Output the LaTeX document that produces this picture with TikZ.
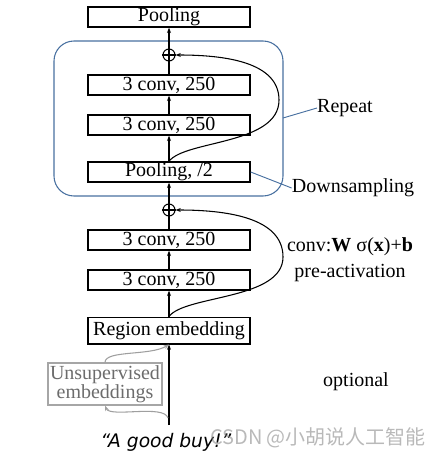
\documentclass[tikz,border=0pt]{standalone}
\usepackage{fontspec}
\setmainfont{Liberation Serif}
\newfontfamily\qfont{DejaVu Sans}
\newfontfamily\cjkfont{Noto Sans CJK SC}
\usetikzlibrary{arrows.meta}
\definecolor{rptblue}{RGB}{72,112,160}
\begin{document}
\begin{tikzpicture}[x=0.75pt,y=-0.75pt,
  blk/.style={draw, line width=1pt, minimum width=121.5pt, minimum height=15pt, inner sep=0pt, font=\fontsize{15}{15}\selectfont},
  plusc/.style={draw, circle, line width=0.8pt, minimum size=9pt, inner sep=0pt},
  arr/.style={-{Stealth[length=4pt,width=3pt]}, line width=0.8pt},
  ln/.style={line width=0.8pt},
  garr/.style={-{Stealth[length=4pt,width=3pt]}, line width=0.8pt, draw=gray!75},
  lbl/.style={font=\fontsize{15}{17}\selectfont, inner sep=0pt, align=center}]
\useasboundingbox (0,0) rectangle (435,459);
% blue repeat box
\draw[rptblue, line width=0.8pt, rounded corners=15pt] (54,41) rectangle (283,196);
% blocks
\node[blk] (pool1) at (169,17) {Pooling};
\node[plusc] (plusA) at (169,55) {};
\node[blk] (convA1) at (169,85) {3 conv, 250};
\node[blk] (convA2) at (169,125) {3 conv, 250};
\node[blk] (poolA) at (169,172) {Pooling, /2};
\node[plusc] (plusB) at (169,210) {};
\node[blk] (convB1) at (169,240) {3 conv, 250};
\node[blk] (convB2) at (169,280) {3 conv, 250};
\node[blk, minimum height=20pt] (region) at (169,330.5) {Region embedding};
\node[draw=gray!70, line width=0.9pt, text=gray!85!black, minimum width=85.5pt, minimum height=31.5pt, inner sep=0pt, align=center, font=\fontsize{15}{13.5}\selectfont] (unsup) at (105,384) {Unsupervised\\embeddings};
\node[font=\qfont\itshape\fontsize{14}{14}\selectfont, inner sep=0pt] (quote) at (166,442) {“A good buy!”};
\coordinate (src) at (169,425);
% plus signs
\foreach \p in {plusA,plusB}{
  \draw[ln] (\p.north) -- (\p.south);
  \draw[ln] (\p.west) -- (\p.east);
}
% main flow
\draw[arr] (src) -- (region.south);
\draw[arr] (region.north) -- (convB2.south);
\draw[arr] (convB2.north) -- (convB1.south);
\draw[ln] (convB1.north) -- (plusB.south);
\draw[arr] (plusB.north) -- (poolA.south);
\draw[arr] (poolA.north) -- (convA2.south);
\draw[arr] (convA2.north) -- (convA1.south);
\draw[ln] (convA1.north) -- (plusA.south);
\draw[arr] (plusA.north) -- (pool1.south);
% skip connections
\draw[arr] (poolA.north) .. controls (185,140) and (279,145) .. (279,100) .. controls (279,62) and (225,55) .. (plusA.east);
\draw[arr] (region.north) .. controls (185,295) and (283,300) .. (283,257) .. controls (283,217) and (225,210) .. (plusB.east);
% unsupervised embeddings
\coordinate (gs) at (168,418);
\draw[garr] (gs) .. controls (164,404) and (110,418) .. (unsup.south);
\draw[garr] (unsup.north) .. controls (105,350) and (150,356) .. (region.south);
% labels
\node[lbl] (rep) at (345,108) {Repeat};
\node[lbl] (down) at (353,188) {Downsampling};
\node[lbl] (convlbl) at (350,247) {conv:\textbf{W} σ(\textbf{x})+\textbf{b}};
\node[lbl] (preact) at (350,273) {pre-activation};
\node[lbl] (opt) at (356,382) {optional};
\draw[rptblue, line width=0.7pt] (283,118) -- (rep.west);
\draw[rptblue, line width=0.7pt] (poolA.east) -- (down.west);
% watermark
\node[font=\cjkfont\fontsize{15}{15}\selectfont, text=gray, opacity=0.55, inner sep=0pt] (wm) at (318,438) {CSDN @小胡说人工智能};
\end{tikzpicture}
\end{document}
